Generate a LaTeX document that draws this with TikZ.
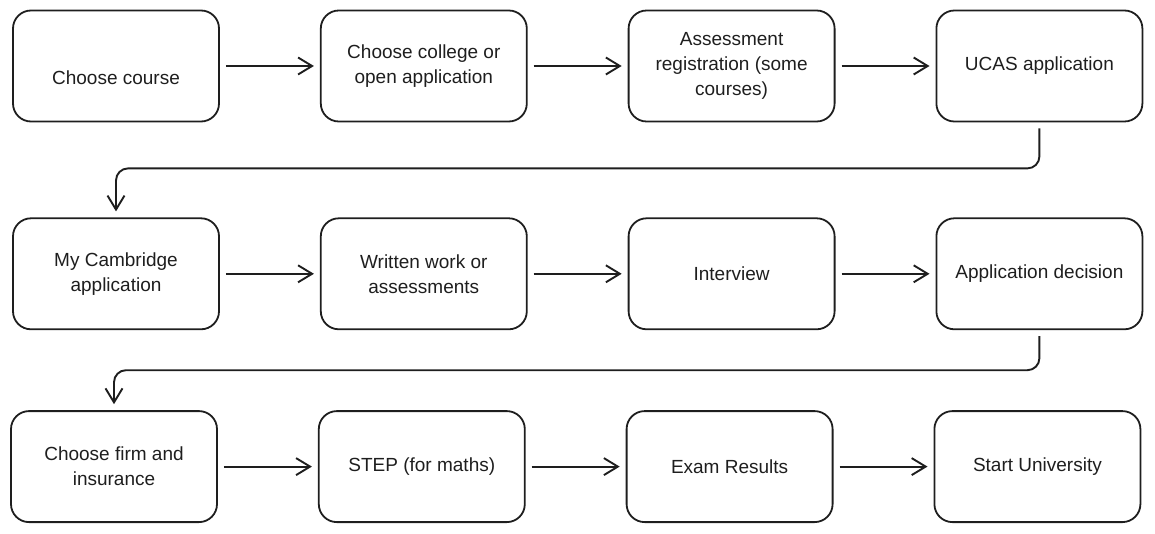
\documentclass[tikz,border=0pt]{standalone}
\usepackage{fontspec}
\setmainfont{Liberation Sans}
\usepackage{tikz}
\usetikzlibrary{arrows.meta,positioning}

\definecolor{ink}{HTML}{1E1E1E}
\tikzset{
  box/.style={draw=ink, text=ink, line width=1.8pt, rounded corners=18pt,
    minimum width=206pt, minimum height=111pt, inner sep=2pt,
    align=center, font=\fontsize{19}{25}\selectfont},
  arr/.style={draw=ink, line width=1.9pt,
    -{Straight Barb[length=14pt,width=17pt,line width=1.9pt]},
    shorten <=6pt, shorten >=6pt}
}

\begin{document}
\begin{tikzpicture}[node distance=95pt and 100pt]
    \useasboundingbox (0,0) rectangle (1155pt,-534pt);
    % first row
    \node[box, text height=38pt, text depth=0pt](course) at (116pt,-66pt){Choose course};
    \node[box, right=of course](college){Choose college or\\open application};
    \node[box, right=of college](assess){Assessment\\registration (some\\courses)};
    \node[box, right=of assess](ucas){UCAS application};
    % second row
    \node[box, below=of course](mycam){My Cambridge\\application};
    \node[box, right=of mycam](written){Written work or\\assessments};
    \node[box, right=of written](interview){Interview};
    \node[box, right=of interview](decision){Application decision};
    % third row
    \node[box, below=80pt of mycam, xshift=-2pt](firm){Choose firm and\\insurance};
    \node[box, right=of firm](step){STEP (for maths)};
    \node[box, right=of step](results){Exam Results};
    \node[box, right=of results](start){Start University};

    \draw[arr] (course) -- (college);
    \draw[arr] (college) -- (assess);
    \draw[arr] (assess) -- (ucas);
    \draw[arr, rounded corners=12pt] (ucas.south) -- ++(0,-46pt) -| (mycam.north);
    \draw[arr] (mycam) -- (written);
    \draw[arr] (written) -- (interview);
    \draw[arr] (interview) -- (decision);
    \draw[arr, rounded corners=12pt] (decision.south) -- ++(0,-40pt) -| (firm.north);
    \draw[arr] (firm) -- (step);
    \draw[arr] (step) -- (results);
    \draw[arr] (results) -- (start);
\end{tikzpicture}
\end{document}
